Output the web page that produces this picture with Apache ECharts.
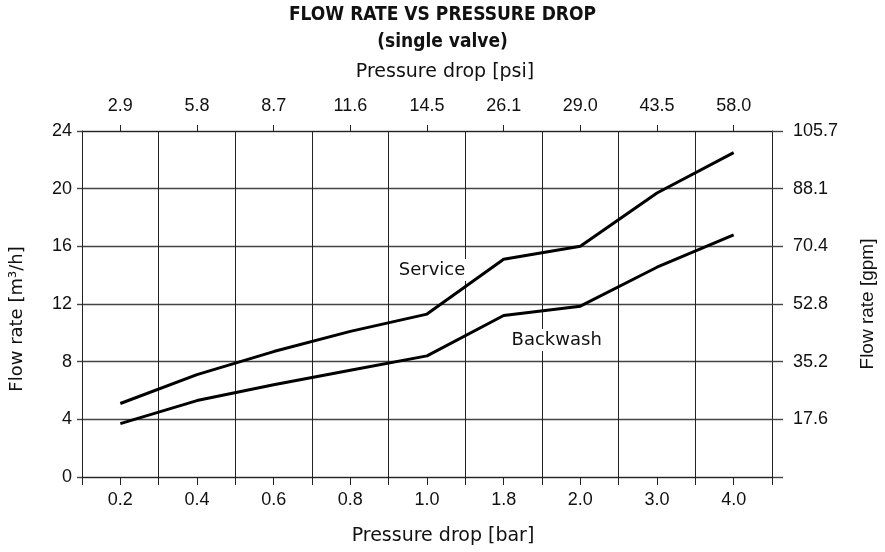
<!DOCTYPE html>
<html>
<head>
<meta charset="utf-8">
<title>Flow rate vs pressure drop</title>
<script src="https://cdn.jsdelivr.net/npm/echarts@6/dist/echarts.min.js"></script>
<style>
  html, body { margin: 0; padding: 0; background: #fff; }
  #flow_chart { width: 885px; height: 552px; }
</style>
</head>
<body>
<div id="flow_chart"></div>
<script>
// pressure drop categories
var barLabels = ['0.2', '0.4', '0.6', '0.8', '1.0', '1.8', '2.0', '3.0', '4.0'];
var psiLabels = ['2.9', '5.8', '8.7', '11.6', '14.5', '26.1', '29.0', '43.5', '58.0'];
// right axis labels (gpm), one per left tick 0..24
var gpmLabels = ['', '17.6', '35.2', '52.8', '70.4', '88.1', '105.7'];

// flow rate m3/h
var serviceFlow = [5.1, 7.1, 8.7, 10.1, 11.3, 15.1, 16.0, 19.7, 22.5];
var backwashFlow = [3.7, 5.3, 6.4, 7.4, 8.4, 11.2, 11.85, 14.55, 16.8];

var condFont = '"DejaVu Sans Condensed", "DejaVu Sans", sans-serif';
var textFont = '"DejaVu Sans", sans-serif';
var armFont = '"Liberation Sans", Arial, sans-serif';
var gridColor = '#222';

var myChart = echarts.init(document.getElementById('flow_chart'));

var option = {
    animation: false,
    backgroundColor: '#fff',
    title: [
        {
            text: 'FLOW RATE VS PRESSURE DROP',
            left: 'center', top: 1,
            textStyle: { fontFamily: condFont, fontWeight: 'bold', fontSize: 19, color: '#111' }
        },
        {
            text: '(single valve)',
            left: 'center', top: 28,
            textStyle: { fontFamily: condFont, fontWeight: 'bold', fontSize: 19, color: '#111' }
        }
    ],
    grid: { left: 81, right: 113, top: 131, bottom: 75, containLabel: false },
    xAxis: [
        {
            type: 'category',
            position: 'bottom',
            data: barLabels,
            boundaryGap: true,
            name: 'Pressure drop [bar]',
            nameLocation: 'middle',
            nameGap: 50,
            // names are centred on the page, not on the plot
            nameTextStyle: { fontFamily: textFont, fontSize: 19, color: '#111', padding: [0, 0, 0, 32] },
            axisLine: { show: true, lineStyle: { color: gridColor, width: 1 } },
            axisTick: { show: true, alignWithLabel: true, length: 8, lineStyle: { color: gridColor } },
            axisLabel: { margin: 14, fontFamily: armFont, fontSize: 18, color: '#111' },
            splitLine: { show: true, lineStyle: { color: gridColor, width: 1 } }
        },
        {
            // second bottom axis only for the boundary ticks
            type: 'category',
            position: 'bottom',
            data: barLabels,
            boundaryGap: true,
            axisLine: { show: false },
            axisTick: { show: true, length: 8, lineStyle: { color: gridColor } },
            axisLabel: { show: false },
            splitLine: { show: false }
        },
        {
            type: 'category',
            position: 'top',
            data: psiLabels,
            boundaryGap: true,
            name: 'Pressure drop [psi]',
            nameLocation: 'middle',
            nameGap: 49,
            nameTextStyle: { fontFamily: textFont, fontSize: 19, color: '#111', padding: [0, 0, 0, 36] },
            axisLine: { show: true, lineStyle: { color: gridColor, width: 1 } },
            axisTick: { show: true, alignWithLabel: true, length: 6, lineStyle: { color: gridColor } },
            axisLabel: { margin: 16, fontFamily: armFont, fontSize: 18, color: '#111' },
            splitLine: { show: false }
        }
    ],
    yAxis: [
        {
            type: 'value',
            position: 'left',
            min: 0, max: 24, interval: 4,
            name: 'Flow rate [m³/h]',
            nameLocation: 'middle',
            nameGap: 56,
            nameRotate: 90,
            nameTextStyle: { fontFamily: textFont, fontSize: 18, color: '#111', padding: [0, 30, 0, 0] },
            axisLine: { show: true, lineStyle: { color: gridColor, width: 1 } },
            axisTick: { show: true, length: 5, lineStyle: { color: '#444', width: 1.4 } },
            axisLabel: { margin: 10, fontFamily: armFont, fontSize: 18, color: '#111' },
            splitLine: { show: true, lineStyle: { color: '#444', width: 1.4 } }
        },
        {
            type: 'value',
            position: 'right',
            min: 0, max: 24, interval: 4,
            name: 'Flow rate [gpm]',
            nameLocation: 'middle',
            nameGap: 86,
            nameRotate: 90,
            nameTextStyle: { fontFamily: armFont, fontSize: 19, color: '#111' },
            axisLine: { show: true, lineStyle: { color: gridColor, width: 1 } },
            axisTick: { show: true, length: 11, lineStyle: { color: '#444', width: 1.4 } },
            axisLabel: {
                margin: 21, fontFamily: armFont, fontSize: 18, color: '#111',
                formatter: function (v) { return gpmLabels[Math.round(v / 4)]; }
            },
            splitLine: { show: false }
        }
    ],
    series: [
        {
            name: 'Service',
            type: 'line',
            xAxisIndex: 0, yAxisIndex: 0,
            data: serviceFlow,
            symbol: 'none',
            lineStyle: { color: '#000', width: 3 },
            markPoint: {
                symbol: 'rect', symbolSize: 0,
                label: {
                    show: true, formatter: 'Service', position: 'inside', offset: [5, 0],
                    fontFamily: textFont, fontSize: 18, color: '#111',
                    backgroundColor: '#fff', padding: [2, 3]
                },
                data: [{ coord: ['1.0', 14.35] }]
            },
            z: 3
        },
        {
            name: 'Backwash',
            type: 'line',
            xAxisIndex: 0, yAxisIndex: 0,
            data: backwashFlow,
            symbol: 'none',
            lineStyle: { color: '#000', width: 3 },
            markPoint: {
                symbol: 'rect', symbolSize: 0,
                label: {
                    show: true, formatter: 'Backwash', position: 'inside', offset: [53, 0],
                    fontFamily: textFont, fontSize: 18, color: '#111',
                    backgroundColor: '#fff', padding: [2, 3]
                },
                data: [{ coord: ['1.8', 9.5] }]
            },
            z: 3
        }
    ]
};

myChart.setOption(option);
</script>
</body>
</html>
